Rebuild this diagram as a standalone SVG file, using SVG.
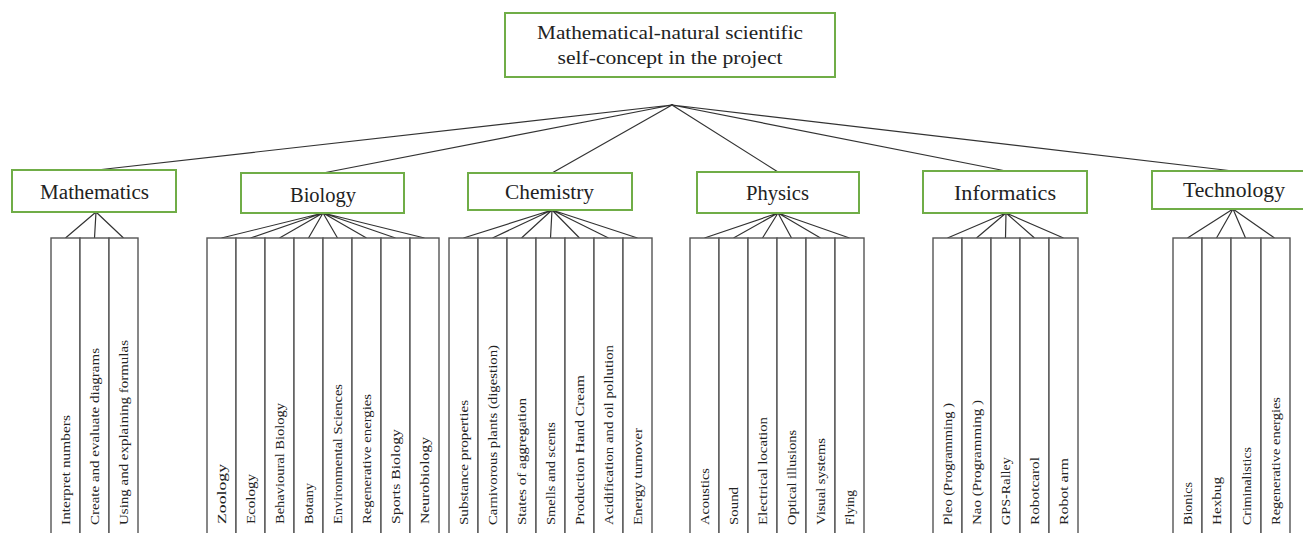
<svg xmlns="http://www.w3.org/2000/svg" width="1303" height="533" viewBox="0 0 1303 533">
<style>
.box{fill:#fff;stroke:#70ad47;stroke-width:2}
.col{fill:#fff;stroke:#555;stroke-width:1.4}
.cn{stroke:#333;stroke-width:1.2;fill:none}
.t{font-family:"Liberation Serif",serif;fill:#222}
.h{font-size:19px;text-anchor:middle}
.c{font-size:20px;text-anchor:middle}
.s{font-size:13.5px}
</style>
<rect width="1303" height="533" fill="#fff"/>
<g id="connectors">
<path class="cn" d="M672,105L97,170M672,105L323,173M672,105L552,173M672,105L778,172M672,105L1006,171M672,105L1233,171"/>
<path class="cn" d="M96,212L65.5,238M96,212L94.5,238M96,212L123.5,238"/>
<path class="cn" d="M323,213L221.5,238M323,213L250.5,238M323,213L279.5,238M323,213L308.5,238M323,213L337.5,238M323,213L366.5,238M323,213L395.5,238M323,213L424.5,238"/>
<path class="cn" d="M552,210L463.5,238M552,210L492.5,238M552,210L521.5,238M552,210L550.5,238M552,210L579.5,238M552,210L608.5,238M552,210L637.5,238"/>
<path class="cn" d="M778,213L704.5,238M778,213L733.5,238M778,213L762.5,238M778,213L791.5,238M778,213L820.5,238M778,213L849.5,238"/>
<path class="cn" d="M1006,213L947.5,238M1006,213L976.5,238M1006,213L1005.5,238M1006,213L1034.5,238M1006,213L1063.5,238"/>
<path class="cn" d="M1233,209L1187.5,238M1233,209L1216.5,238M1233,209L1245.5,238M1233,209L1274.5,238"/>
</g>
<g id="root">
<rect class="box" x="505" y="13" width="330" height="64"/>
<text class="t h" x="670" y="39" textLength="266" lengthAdjust="spacingAndGlyphs">Mathematical-natural scientific</text>
<text class="t h" x="670" y="64" textLength="225" lengthAdjust="spacingAndGlyphs">self-concept in the project</text>
</g>
<g id="mathematics"><rect class="box" x="12" y="170" width="164" height="42"/><text class="t c" x="94.5" y="199" textLength="109" lengthAdjust="spacingAndGlyphs">Mathematics</text></g>
<g id="biology"><rect class="box" x="241" y="173" width="163" height="40"/><text class="t c" x="323" y="202" textLength="66" lengthAdjust="spacingAndGlyphs">Biology</text></g>
<g id="chemistry"><rect class="box" x="468" y="173" width="164" height="37"/><text class="t c" x="549.5" y="199" textLength="89" lengthAdjust="spacingAndGlyphs">Chemistry</text></g>
<g id="physics"><rect class="box" x="697" y="172" width="162" height="41"/><text class="t c" x="777.5" y="200" textLength="63" lengthAdjust="spacingAndGlyphs">Physics</text></g>
<g id="informatics"><rect class="box" x="923" y="171" width="164" height="42"/><text class="t c" x="1005" y="200" textLength="102" lengthAdjust="spacingAndGlyphs">Informatics</text></g>
<g id="technology"><rect class="box" x="1152" y="171" width="160" height="38"/><text class="t c" x="1234" y="197" textLength="102" lengthAdjust="spacingAndGlyphs">Technology</text></g>

<g id="m1"><rect class="col" x="51" y="238" width="29" height="300"/><text class="t s" transform="translate(70,525) rotate(-90)" textLength="110" lengthAdjust="spacingAndGlyphs">Interpret numbers</text></g>
<g id="m2"><rect class="col" x="80" y="238" width="29" height="300"/><text class="t s" transform="translate(99,525) rotate(-90)" textLength="177" lengthAdjust="spacingAndGlyphs">Create and evaluate diagrams</text></g>
<g id="m3"><rect class="col" x="109" y="238" width="29" height="300"/><text class="t s" transform="translate(128,525) rotate(-90)" textLength="185" lengthAdjust="spacingAndGlyphs">Using and explaining formulas</text></g>

<g id="b1"><rect class="col" x="207" y="238" width="29" height="300"/><text class="t s" transform="translate(226,524) rotate(-90)" textLength="60" lengthAdjust="spacingAndGlyphs">Zoology</text></g>
<g id="b2"><rect class="col" x="236" y="238" width="29" height="300"/><text class="t s" transform="translate(255,524) rotate(-90)" textLength="50" lengthAdjust="spacingAndGlyphs">Ecology</text></g>
<g id="b3"><rect class="col" x="265" y="238" width="29" height="300"/><text class="t s" transform="translate(284,524) rotate(-90)" textLength="121" lengthAdjust="spacingAndGlyphs">Behavioural Biology</text></g>
<g id="b4"><rect class="col" x="294" y="238" width="29" height="300"/><text class="t s" transform="translate(313,524) rotate(-90)" textLength="41" lengthAdjust="spacingAndGlyphs">Botany</text></g>
<g id="b5"><rect class="col" x="323" y="238" width="29" height="300"/><text class="t s" transform="translate(342,524) rotate(-90)" textLength="140" lengthAdjust="spacingAndGlyphs">Environmental Sciences</text></g>
<g id="b6"><rect class="col" x="352" y="238" width="29" height="300"/><text class="t s" transform="translate(371,524) rotate(-90)" textLength="130" lengthAdjust="spacingAndGlyphs">Regenerative energies</text></g>
<g id="b7"><rect class="col" x="381" y="238" width="29" height="300"/><text class="t s" transform="translate(400,524) rotate(-90)" textLength="95" lengthAdjust="spacingAndGlyphs">Sports Biology</text></g>
<g id="b8"><rect class="col" x="410" y="238" width="29" height="300"/><text class="t s" transform="translate(429,524) rotate(-90)" textLength="87" lengthAdjust="spacingAndGlyphs">Neurobiology</text></g>

<g id="c1"><rect class="col" x="449" y="238" width="29" height="300"/><text class="t s" transform="translate(468,525) rotate(-90)" textLength="125" lengthAdjust="spacingAndGlyphs">Substance properties</text></g>
<g id="c2"><rect class="col" x="478" y="238" width="29" height="300"/><text class="t s" transform="translate(497,525) rotate(-90)" textLength="180" lengthAdjust="spacingAndGlyphs">Carnivorous plants (digestion)</text></g>
<g id="c3"><rect class="col" x="507" y="238" width="29" height="300"/><text class="t s" transform="translate(526,525) rotate(-90)" textLength="127" lengthAdjust="spacingAndGlyphs">States of aggregation</text></g>
<g id="c4"><rect class="col" x="536" y="238" width="29" height="300"/><text class="t s" transform="translate(555,525) rotate(-90)" textLength="103" lengthAdjust="spacingAndGlyphs">Smells and scents</text></g>
<g id="c5"><rect class="col" x="565" y="238" width="29" height="300"/><text class="t s" transform="translate(584,525) rotate(-90)" textLength="150" lengthAdjust="spacingAndGlyphs">Production Hand Cream</text></g>
<g id="c6"><rect class="col" x="594" y="238" width="29" height="300"/><text class="t s" transform="translate(613,525) rotate(-90)" textLength="180" lengthAdjust="spacingAndGlyphs">Acidification and oil pollution</text></g>
<g id="c7"><rect class="col" x="623" y="238" width="29" height="300"/><text class="t s" transform="translate(642,525) rotate(-90)" textLength="97" lengthAdjust="spacingAndGlyphs">Energy turnover</text></g>

<g id="p1"><rect class="col" x="690" y="238" width="29" height="300"/><text class="t s" transform="translate(709,525) rotate(-90)" textLength="57" lengthAdjust="spacingAndGlyphs">Acoustics</text></g>
<g id="p2"><rect class="col" x="719" y="238" width="29" height="300"/><text class="t s" transform="translate(738,525) rotate(-90)" textLength="38" lengthAdjust="spacingAndGlyphs">Sound</text></g>
<g id="p3"><rect class="col" x="748" y="238" width="29" height="300"/><text class="t s" transform="translate(767,525) rotate(-90)" textLength="108" lengthAdjust="spacingAndGlyphs">Electrical location</text></g>
<g id="p4"><rect class="col" x="777" y="238" width="29" height="300"/><text class="t s" transform="translate(796,525) rotate(-90)" textLength="95" lengthAdjust="spacingAndGlyphs">Optical illusions</text></g>
<g id="p5"><rect class="col" x="806" y="238" width="29" height="300"/><text class="t s" transform="translate(825,525) rotate(-90)" textLength="87" lengthAdjust="spacingAndGlyphs">Visual systems</text></g>
<g id="p6"><rect class="col" x="835" y="238" width="29" height="300"/><text class="t s" transform="translate(854,525) rotate(-90)" textLength="35" lengthAdjust="spacingAndGlyphs">Flying</text></g>

<g id="i1"><rect class="col" x="933" y="238" width="29" height="300"/><text class="t s" transform="translate(952,525) rotate(-90)" textLength="122" lengthAdjust="spacingAndGlyphs">Pleo (Programming )</text></g>
<g id="i2"><rect class="col" x="962" y="238" width="29" height="300"/><text class="t s" transform="translate(981,525) rotate(-90)" textLength="125" lengthAdjust="spacingAndGlyphs">Nao (Programming )</text></g>
<g id="i3"><rect class="col" x="991" y="238" width="29" height="300"/><text class="t s" transform="translate(1010,525) rotate(-90)" textLength="68" lengthAdjust="spacingAndGlyphs">GPS-Ralley</text></g>
<g id="i4"><rect class="col" x="1020" y="238" width="29" height="300"/><text class="t s" transform="translate(1039,525) rotate(-90)" textLength="68" lengthAdjust="spacingAndGlyphs">Robotcarol</text></g>
<g id="i5"><rect class="col" x="1049" y="238" width="29" height="300"/><text class="t s" transform="translate(1068,525) rotate(-90)" textLength="67" lengthAdjust="spacingAndGlyphs">Robot arm</text></g>

<g id="t1"><rect class="col" x="1173" y="238" width="29" height="300"/><text class="t s" transform="translate(1192,525) rotate(-90)" textLength="43" lengthAdjust="spacingAndGlyphs">Bionics</text></g>
<g id="t2"><rect class="col" x="1202" y="238" width="29" height="300"/><text class="t s" transform="translate(1221,525) rotate(-90)" textLength="48" lengthAdjust="spacingAndGlyphs">Hexbug</text></g>
<g id="t3"><rect class="col" x="1231" y="238" width="30" height="300"/><text class="t s" transform="translate(1250.5,525) rotate(-90)" textLength="78" lengthAdjust="spacingAndGlyphs">Criminalistics</text></g>
<g id="t4"><rect class="col" x="1261" y="238" width="29" height="300"/><text class="t s" transform="translate(1280,525) rotate(-90)" textLength="128" lengthAdjust="spacingAndGlyphs">Regenerative energies</text></g>
</svg>
